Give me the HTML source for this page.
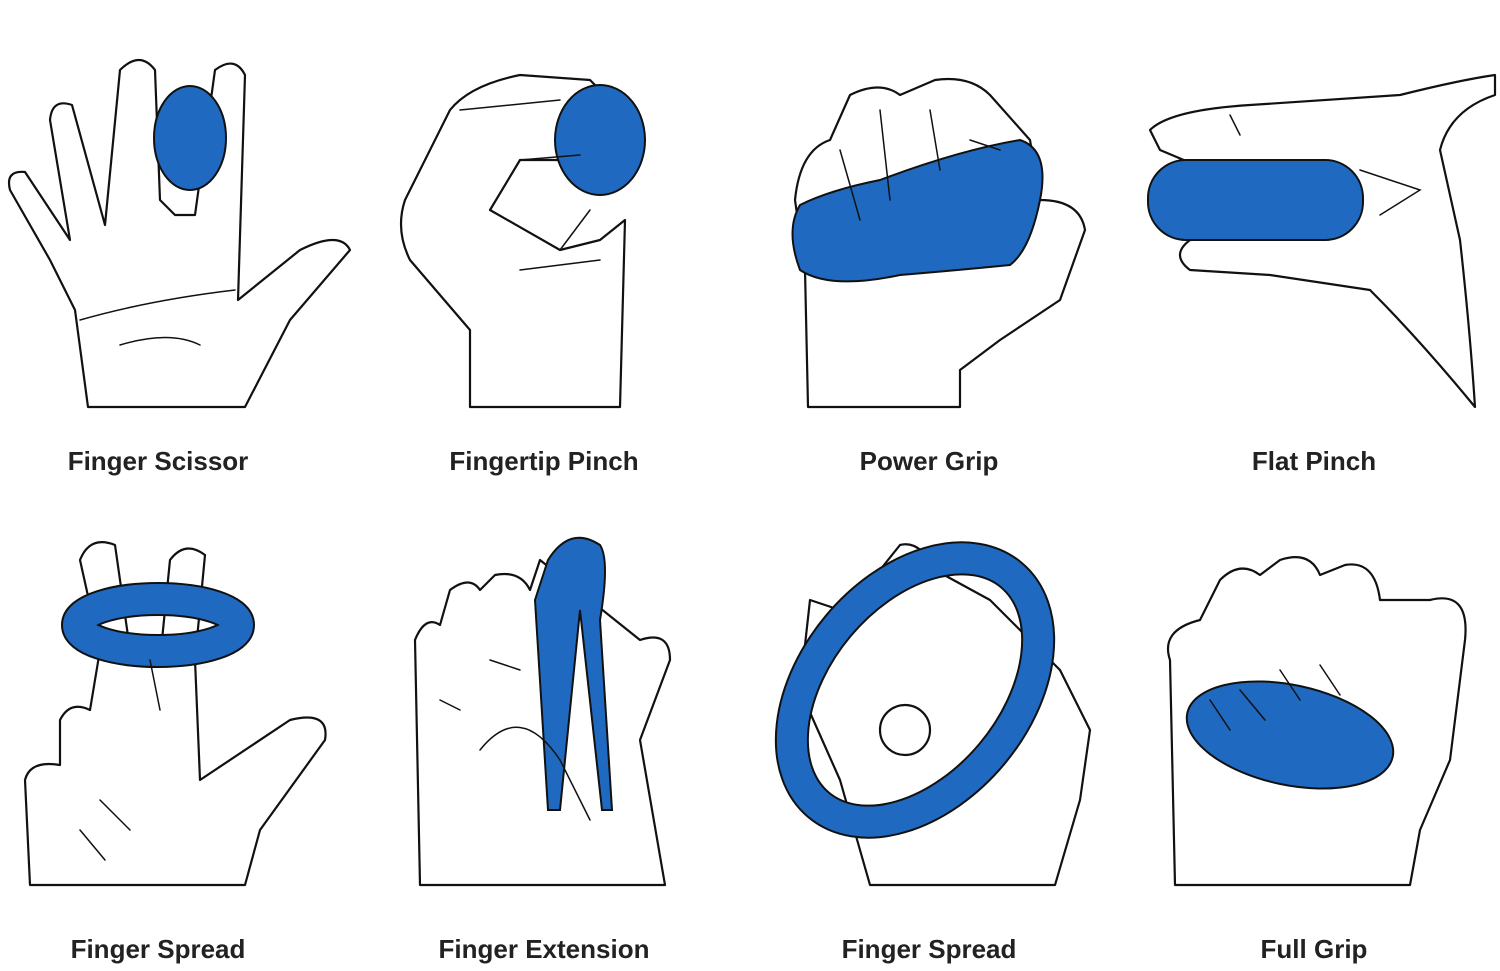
<!DOCTYPE html>
<html><head><meta charset="utf-8"><style>
html,body{margin:0;padding:0;background:#fff;width:1500px;height:971px;overflow:hidden}
svg{display:block}
text{font-family:"Liberation Sans",Arial,sans-serif;font-weight:bold;font-size:26px;fill:#222}
.h{fill:#fff;stroke:#111;stroke-width:2.2;stroke-linejoin:round;stroke-linecap:round}
.l{fill:none;stroke:#111;stroke-width:1.5;stroke-linecap:round}
.b{fill:#1f6ac0;stroke:#111;stroke-width:2}
</style></head><body>
<svg width="1500" height="971" viewBox="0 0 1500 971">
<!-- Panel 1 -->
<path class="h" d="M88,407 L75,310 L50,260 L10,190 Q5,170 25,172 L70,240 L50,120 Q52,98 72,105 L105,225 L120,70 Q140,50 155,70 L160,200 L175,215 L195,215 L215,70 Q235,55 245,75 L238,300 L300,250 Q340,230 350,250 L290,320 L245,407 Z"/>
<ellipse class="b" cx="190" cy="138" rx="36" ry="52"/>
<path class="l" d="M80,320 Q150,300 235,290 M120,345 Q170,330 200,345"/>
<!-- Panel 2 -->
<path class="h" d="M470,407 L470,330 L410,260 Q395,230 405,200 L450,110 Q470,85 520,75 L590,80 L620,110 L600,150 L560,160 L520,160 L490,210 L560,250 L600,240 L625,220 L620,407 Z"/>
<ellipse class="b" cx="600" cy="140" rx="45" ry="55"/>
<path class="l" d="M460,110 L560,100 M520,160 L580,155 M520,270 L600,260 M560,250 L590,210"/>
<!-- Panel 3 -->
<path class="h" d="M808,407 L805,270 L795,200 Q800,150 830,140 L850,95 Q880,80 900,95 L935,80 Q970,75 990,95 L1030,140 L1040,200 Q1080,200 1085,230 L1060,300 L1000,340 L960,370 L960,407 Z"/>
<path class="b" d="M800,205 Q830,190 880,180 Q960,150 1020,140 Q1050,150 1040,200 Q1030,250 1010,265 Q960,270 900,275 Q830,290 800,270 Q785,230 800,205 Z"/>
<path class="l" d="M840,150 L860,220 M880,110 L890,200 M930,110 L940,170 M970,140 L1000,150"/>
<!-- Panel 4 -->
<path class="h" d="M1150,130 Q1170,110 1250,105 L1400,95 Q1460,80 1495,75 L1495,95 Q1450,110 1440,150 L1460,240 Q1470,330 1475,407 Q1420,340 1370,290 L1270,275 L1190,270 Q1170,255 1190,240 L1350,230 L1160,150 Z"/>
<rect class="b" x="1148" y="160" width="215" height="80" rx="38"/>
<path class="l" d="M1360,170 L1420,190 L1380,215 M1230,115 L1240,135"/>
<text x="158" y="470" text-anchor="middle">Finger Scissor</text>
<text x="544" y="470" text-anchor="middle">Fingertip Pinch</text>
<text x="929" y="470" text-anchor="middle">Power Grip</text>
<text x="1314" y="470" text-anchor="middle">Flat Pinch</text>
<!-- Panel 5 -->
<path class="h" d="M30,885 L25,780 Q30,760 60,765 L60,720 Q70,700 90,710 L100,650 L80,560 Q90,535 115,545 L130,650 L160,660 L170,560 Q185,540 205,555 L195,660 L200,780 L290,720 Q330,710 325,740 L260,830 L245,885 Z"/>
<ellipse cx="158" cy="625" rx="80" ry="26" fill="none" stroke="#111" stroke-width="34"/>
<ellipse cx="158" cy="625" rx="80" ry="26" fill="none" stroke="#1f6ac0" stroke-width="30"/>
<path class="l" d="M100,800 L130,830 M80,830 L105,860 M150,660 L160,710"/>
<!-- Panel 6 -->
<path class="h" d="M420,885 L415,640 Q425,615 440,625 L450,590 Q470,575 480,590 L495,575 Q520,570 530,590 L540,560 L640,640 Q670,630 670,660 L640,740 L665,885 Z"/>
<path class="b" d="M548,560 Q570,525 600,545 Q610,560 600,620 L612,810 L602,810 L580,610 L560,810 L548,810 L535,600 Z"/>
<path class="l" d="M480,750 Q520,700 560,760 L590,820 M440,700 L460,710 M490,660 L520,670"/>
<!-- Panel 7 -->
<path class="h" d="M870,885 L840,780 L800,690 L810,600 L840,610 L880,570 L900,545 Q920,540 935,570 L990,600 L1060,670 L1090,730 L1080,800 L1055,885 Z"/>
<ellipse cx="915" cy="690" rx="150" ry="100" transform="rotate(-50 915 690)" fill="none" stroke="#111" stroke-width="34"/>
<ellipse cx="915" cy="690" rx="150" ry="100" transform="rotate(-50 915 690)" fill="none" stroke="#1f6ac0" stroke-width="30"/>
<circle class="h" cx="905" cy="730" r="25"/>
<!-- Panel 8 -->
<path class="h" d="M1175,885 L1170,660 Q1160,630 1200,620 L1220,580 Q1240,560 1260,575 L1280,560 Q1310,550 1320,575 L1345,565 Q1375,560 1380,600 L1430,600 Q1470,590 1465,640 L1450,760 L1420,830 L1410,885 Z"/>
<ellipse class="b" cx="1290" cy="735" rx="105" ry="50" transform="rotate(12 1290 735)"/>
<path class="l" d="M1210,700 L1230,730 M1240,690 L1265,720 M1280,670 L1300,700 M1320,665 L1340,695"/>
<text x="158" y="958" text-anchor="middle">Finger Spread</text>
<text x="544" y="958" text-anchor="middle">Finger Extension</text>
<text x="929" y="958" text-anchor="middle">Finger Spread</text>
<text x="1314" y="958" text-anchor="middle">Full Grip</text>
</svg>
</body></html>
